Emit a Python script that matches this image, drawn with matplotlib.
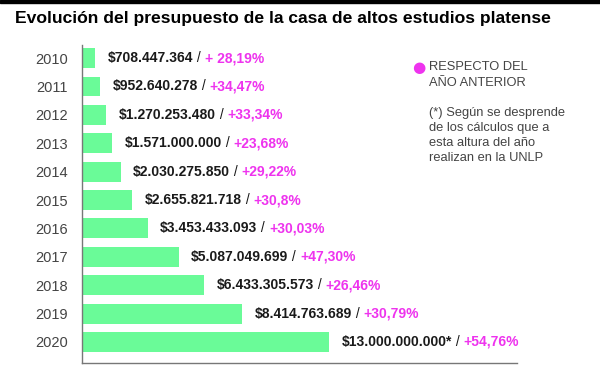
import matplotlib
matplotlib.use("Agg")
import matplotlib.pyplot as plt

anios = ["2010", "2011", "2012", "2013", "2014", "2015",
         "2016", "2017", "2018", "2019", "2020"]
presupuesto = [708447364, 952640278, 1270253480, 1571000000, 2030275850,
               2655821718, 3453433093, 5087049699, 6433305573, 8414763689,
               13000000000]
etiquetas = ["$708.447.364", "$952.640.278", "$1.270.253.480", "$1.571.000.000",
             "$2.030.275.850", "$2.655.821.718", "$3.453.433.093",
             "$5.087.049.699", "$6.433.305.573", "$8.414.763.689",
             "$13.000.000.000*"]
variaciones = ["+ 28,19%", "+34,47%", "+33,34%", "+23,68%", "+29,22%", "+30,8%",
               "+30,03%", "+47,30%", "+26,46%", "+30,79%", "+54,76%"]

VERDE = "#6afb98"
MAGENTA = "#ee33ee"
OSCURO = "#1a1a1a"
GRIS = "#444444"

plt.rcParams["font.family"] = ["Liberation Sans", "DejaVu Sans"]

fig = plt.figure(figsize=(6.0, 3.65), dpi=100)
fig.patch.set_facecolor("white")

# franja negra superior
fig.add_artist(plt.Rectangle((0, 1 - 3 / 365), 1, 3 / 365,
                             transform=fig.transFigure, color="black"))

fig.text(15 / 600, 1 - 19 / 365,
         "Evolución del presupuesto de la casa de altos estudios platense",
         fontsize=12.6, fontweight="bold", color="black", va="center")

ax = fig.add_axes([82 / 600, 2 / 365, (517 - 82) / 600, (363 - 45) / 365])
y = list(range(len(anios)))
valores = [v / 1e9 for v in presupuesto]
ax.barh(y, valores, height=0.7, color=VERDE)
ax.set_ylim(10.74, -0.46)
ax.set_xlim(0, 22.9)
ax.set_yticks(y)
ax.set_yticklabels(anios, fontsize=10.5, color=GRIS)
ax.tick_params(axis="y", length=0, pad=10)
ax.set_xticks([])
for lado in ("top", "right"):
    ax.spines[lado].set_visible(False)
for lado in ("left", "bottom"):
    ax.spines[lado].set_color("#777777")
    ax.spines[lado].set_linewidth(1.0)

for yi, v, et, var in zip(y, valores, etiquetas, variaciones):
    t1 = ax.annotate(et, xy=(v, yi), xytext=(9, 0), textcoords="offset points",
                     fontsize=10, fontweight="bold", color=OSCURO,
                     va="center", ha="left")
    t2 = ax.annotate(" / ", xy=(1, 0), xycoords=t1, va="bottom", ha="left",
                     fontsize=10, color=OSCURO)
    ax.annotate(var, xy=(1, 0), xycoords=t2, va="bottom", ha="left",
                fontsize=10, color=MAGENTA, fontweight="semibold")

# leyenda y nota
fig.text(419 / 600, 1 - 67 / 365, "●", color=MAGENTA, fontsize=11,
         ha="center", va="center", family="DejaVu Sans")
fig.text(429 / 600, 1 - 61 / 365, "RESPECTO DEL\nAÑO ANTERIOR",
         fontsize=9.3, color=GRIS, va="top", ha="left", linespacing=1.4)
fig.text(429 / 600, 1 - 107 / 365,
         "(*) Según se desprende\nde los cálculos que a\nesta altura del año\nrealizan en la UNLP",
         fontsize=9.3, color=GRIS, va="top", ha="left", linespacing=1.35)

fig.savefig("out.png", dpi=100, facecolor="white")
